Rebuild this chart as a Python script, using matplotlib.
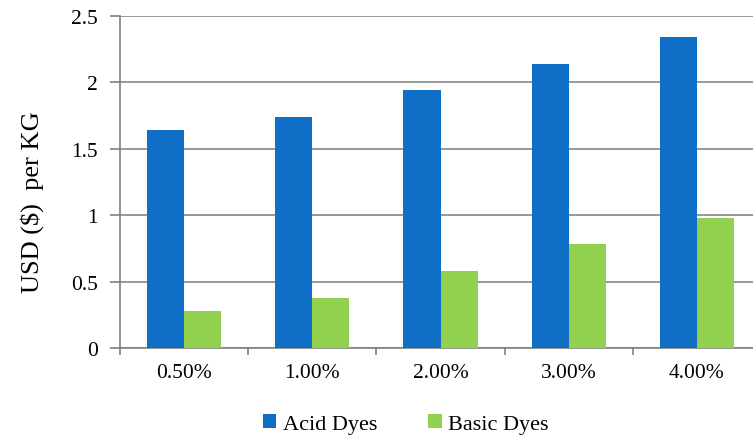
import matplotlib.pyplot as plt
import numpy as np

plt.rcParams['font.family'] = ['Liberation Serif', 'DejaVu Serif']

concentrations = ["0.50%", "1.00%", "2.00%", "3.00%", "4.00%"]
acid_dyes = [1.64, 1.74, 1.94, 2.14, 2.34]
basic_dyes = [0.28, 0.38, 0.58, 0.78, 0.98]

fig = plt.figure(figsize=(7.53, 4.39), dpi=100)
ax = fig.add_axes([0.1594, 0.205, 0.8512, 0.7563])

x = np.arange(len(concentrations))
w = 0.29
ax.bar(x - w / 2, acid_dyes, w, color="#0F6FC6", label="Acid Dyes", zorder=3)
ax.bar(x + w / 2, basic_dyes, w, color="#92D050", label="Basic Dyes", zorder=3)

ax.set_xlim(-0.5, len(concentrations) - 0.5)
ax.set_ylim(0, 2.5)
ax.set_yticks(np.arange(0, 2.51, 0.5))
ax.set_yticklabels(["0", "0.5", "1", "1.5", "2", "2.5"])
ax.set_xticks(x)
ax.set_xticklabels(concentrations)
ax.set_xticks(np.arange(-0.5, len(concentrations), 1), minor=True)

ax.grid(axis="y", color="#868686", linewidth=1.2, zorder=0)
for side in ["top", "right"]:
    ax.spines[side].set_visible(False)
for side in ["left", "bottom"]:
    ax.spines[side].set_color("#808080")
    ax.spines[side].set_linewidth(1.2)

ax.tick_params(axis="x", which="major", length=0, pad=11, labelsize=15.5)
ax.tick_params(axis="x", which="minor", length=5, color="#808080", width=1.2)
ax.tick_params(axis="y", length=7, color="#808080", width=1.2, pad=9, labelsize=15.5)

ax.set_ylabel("USD ($)  per KG", fontsize=19)
ax.yaxis.set_label_coords(-0.119, 0.443)

fig.legend(loc="center", bbox_to_anchor=(0.539, 0.032), ncol=2, frameon=False,
           fontsize=16, handlelength=0.6, handleheight=0.6, columnspacing=2.3,
           handletextpad=0.3)

fig.savefig("out.png", dpi=100)
